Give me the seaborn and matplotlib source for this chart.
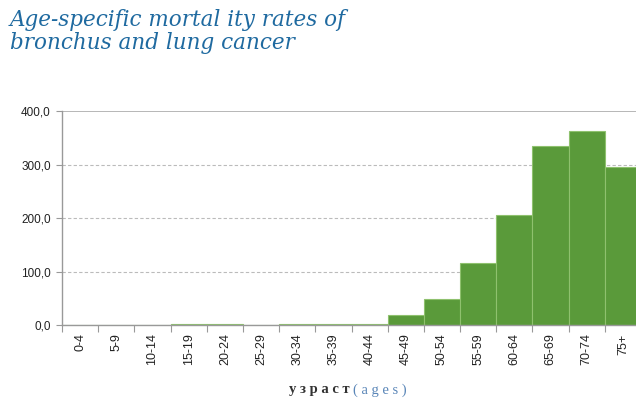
import numpy as np
import pandas as pd
import matplotlib.pyplot as plt
import seaborn as sns

# age groups and mortality rates
ages = ['0-4', '5-9', '10-14', '15-19', '20-24', '25-29', '30-34', '35-39',
        '40-44', '45-49', '50-54', '55-59', '60-64', '65-69', '70-74', '75+']
rates = [0.0, 0.0, 0.0, 1.5, 1.5, 0.0, 1.5, 1.5,
         1.0, 19.0, 48.0, 116.0, 205.0, 334.0, 363.0, 295.0]
yticks = [0, 100, 200, 300, 400]

df = pd.DataFrame({'age': ages, 'rate': rates})

sns.set_style('white')
plt.rcParams['font.family'] = ['Liberation Sans', 'DejaVu Sans']

fig = plt.figure(figsize=(6.36, 4.01), dpi=100)
ax = fig.add_axes([62/636, 1-325/401, 579/636, 214/401])

sns.barplot(data=df, x='age', y='rate', color='#5a9a3a', edgecolor='#8fc16e',
            linewidth=0.8, width=1.0, saturation=1, ax=ax)

ax.set_ylim(0, 400)
ax.set_xlim(-0.5, len(ages)-0.5)
ax.set_yticks(yticks)
ax.set_yticklabels(['{:.1f}'.format(v).replace('.', ',') for v in yticks], fontsize=8.5, color='#222222')
ax.set_xticks(range(len(ages)))
ax.set_xticklabels(ages, rotation=90, fontsize=9, color='#222222')
ax.tick_params(axis='x', length=0, pad=6)
ax.tick_params(axis='y', length=4, width=0.8, color='#999999', left=True, pad=4)
# category separator ticks below the x axis
ax.set_xticks(np.arange(-0.5, len(ages), 1), minor=True)
ax.tick_params(axis='x', which='minor', length=5, width=0.8, color='#999999', bottom=True)

for v in yticks[1:-1]:
    ax.axhline(v, color='#bbbbbb', lw=0.8, ls=(0, (3, 2)), zorder=0)
ax.axhline(400, color='#aaaaaa', lw=1.2, zorder=0)

for s in ['top', 'right']:
    ax.spines[s].set_visible(False)
for s in ['left', 'bottom']:
    ax.spines[s].set_color('#999999')
    ax.spines[s].set_linewidth(1.0)
ax.set_xlabel('')
ax.set_ylabel('')

fig.text(10/636, 1-9/401, 'Age-specific mortal ity rates of\nbronchus and lung cancer',
         fontsize=15.5, style='italic', family=['DejaVu Serif'],
         color='#1f6aa0', va='top', ha='left', linespacing=1.05)

fig.text(353/636, 1-390/401, 'у з р а с т ', fontsize=10.5, family=['Liberation Serif', 'DejaVu Serif'],
         color='#333333', ha='right', va='center', weight='bold')
fig.text(353/636, 1-390/401, '( a g e s )', fontsize=10.5, family=['Liberation Serif', 'DejaVu Serif'],
         color='#5a86b8', ha='left', va='center')

fig.savefig('out.png', dpi=100)
